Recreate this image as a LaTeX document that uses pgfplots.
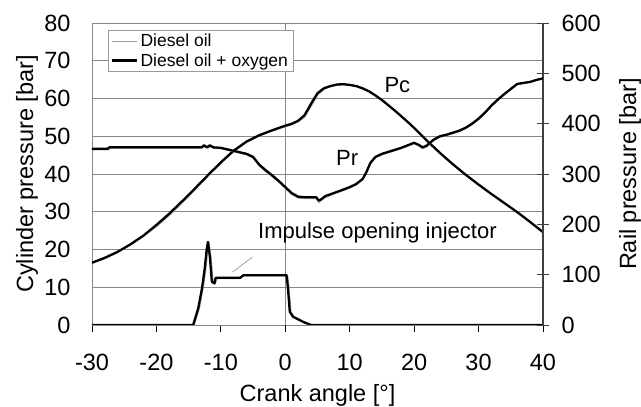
\documentclass[border=0pt]{standalone}
\usepackage{fontspec}
\setmainfont{Liberation Sans}
\usepackage{pgfplots}
\pgfplotsset{compat=1.18}

\definecolor{oilgray}{RGB}{160,160,160}
\definecolor{gridgray}{RGB}{135,135,135}

\newcommand{\bigfont}{\fontsize{23.5}{27}\selectfont}

\pgfplotsset{
  base/.style={
    at={(0,0)}, anchor=south west,
    scale only axis, width=451pt, height=302pt,
    xmin=-30, xmax=40,
    /pgf/number format/assume math mode=true,
    tick label style={font=\bigfont},
    label style={font=\bigfont},
  },
  oil/.style={oilgray, line width=0.9pt},
  oxy/.style={black, line width=2.3pt, line join=round},
}

\begin{document}
\begin{tikzpicture}
\useasboundingbox (-92pt,-82pt) rectangle (549pt,325pt);

% left axis: cylinder pressure and injector impulse
\begin{axis}[
  base,
  ymin=0, ymax=80,
  xtick={-30,-20,...,40}, ytick={0,10,...,80},
  ymajorgrids,
  major grid style={gridgray, line width=0.9pt},
  extra x ticks={0}, extra x tick labels={},
  extra x tick style={xmajorgrids=true},
  axis line style={gridgray, line width=0.9pt},
  xtick pos=bottom, ytick pos=left,
  xtick style={black, line width=0.8pt},
  ytick style={draw=none},
  tick align=outside, major tick length=7pt,
  xticklabel style={yshift=-19pt},
  yticklabel style={xshift=-11pt},
  xlabel={Crank angle [°]},
  ylabel={Cylinder pressure [bar]},
  xlabel style={at={(axis description cs:0.5,0)}, anchor=center, yshift=-70pt},
  ylabel style={at={(axis description cs:-0.144,0.5)}, anchor=center},
  legend cell align=left,
  legend style={at={(0.0355,0.977)}, anchor=north west,
    draw=gray!80, line width=0.6pt, fill=white,
    font=\fontsize{17.5}{20}\selectfont,
    inner xsep=3pt, inner ysep=2pt, row sep=1pt},
  legend image code/.code={\draw[#1] (0pt,0pt) -- (25pt,0pt);},
]
\addplot[oil] coordinates {
(-30,16.3)(-28,17.6)(-26,19.2)(-24,21.2)(-22,23.5)(-20,26.0)(-18,29.0)(-16,32.3)
(-14,35.8)(-12,39.4)(-10,42.8)(-8,45.9)(-6,48.4)(-4,50.1)(-2,51.4)(0,52.5)
(1,53.0)(2,53.8)(3,55.0)(4,57.8)(5,60.8)(6,62.4)(7,63.1)(8,63.5)(9,63.6)
(10,63.5)(11,63.2)(12,62.6)(13,61.8)(14,60.8)(15,59.6)(16,58.2)(17,56.8)
(18,55.3)(19,53.8)(20,52.2)(22,48.8)(24,45.6)(26,42.6)(28,39.8)(30,37.2)
(32,34.7)(34,32.3)(36,29.9)(38,27.3)(40,24.6)
};
\addlegendentry{Diesel oil}
\addplot[oxy] coordinates {
(-30,16.5)(-28,17.8)(-26,19.4)(-24,21.4)(-22,23.7)(-20,26.5)(-18,29.5)(-16,32.8)
(-14,36.2)(-12,39.7)(-10,43.1)(-8,46.2)(-6,48.6)(-4,50.3)(-2,51.6)(0,52.8)
(1,53.3)(2,54.1)(3,55.6)(4,58.6)(5,61.4)(6,62.7)(7,63.3)(8,63.7)(9,63.8)
(10,63.6)(11,63.3)(12,62.7)(13,61.9)(14,60.8)(15,59.6)(16,58.2)(17,56.8)
(18,55.3)(19,53.8)(20,52.2)(22,48.8)(24,45.6)(26,42.6)(28,39.8)(30,37.2)
(32,34.7)(34,32.3)(36,29.9)(38,27.3)(40,24.6)
};
\addlegendentry{Diesel oil + oxygen}

% injector opening impulse
\addplot[oil, forget plot] coordinates {
(-30,0)(-14.1,0)(-13.3,4.5)(-12.7,10)(-12.3,15)(-12.0,20)(-11.8,21.5)
(-11.5,18)(-11.2,11.5)(-10.8,11)(-10.6,12.3)(-7,12.3)(-6.5,13.0)(0.4,13.0)
(0.6,10)(0.9,3.5)(1.4,2.2)(3.0,0.8)(4.2,0)(40,0)
};
\addplot[oxy, forget plot] coordinates {
(-30,0)(-14.3,0)(-13.5,4.5)(-12.9,10)(-12.5,15)(-12.2,20)(-12.0,22)
(-11.7,18)(-11.4,11.5)(-11.0,11)(-10.8,12.5)(-7,12.5)(-6.5,13.2)(0.2,13.2)
(0.4,10)(0.7,3.5)(1.2,2.2)(2.8,0.8)(4.0,0)(40,0)
};

\draw[oilgray, line width=0.8pt] (axis cs:-8.2,14) -- (axis cs:-5.1,18);
\node[font=\fontsize{22}{25}\selectfont] at (axis cs:17.4,63.5) {Pc};
\node[font=\fontsize{22}{25}\selectfont] at (axis cs:9.6,44.2) {Pr};
\node[font=\fontsize{22}{25}\selectfont] at (axis cs:14.3,24.4) {Impulse opening injector};
\end{axis}

% right axis: rail pressure
\begin{axis}[
  base,
  ymin=0, ymax=600,
  axis x line=none,
  axis y line*=right,
  ytick={0,100,...,600},
  y axis line style={black!75, line width=1.1pt},
  ytick style={black!75, line width=0.9pt},
  tick align=center, major tick length=12pt,
  yticklabel style={xshift=9pt},
  ylabel={Rail pressure [bar]},
  ylabel style={at={(axis description cs:1.193,0.5)}, anchor=center},
]
\addplot[oil] coordinates {
(-30,348)(-27.4,348)(-27.1,351)(-13,351)(-12.4,355)(-12.0,351)(-11.5,355)
(-11.0,351)(-10,350)(-9,347)(-8,344)(-7,341)(-6,338)(-5,331)(-4.5,323)
(-4,315)(-3,304)(-2,294)(-1,283)(0,271)(1,259)(2,252)(3,251)(4,251)(4.8,251)
(5.2,243)(5.6,247)(6.2,253)(7.5,260)(9,267)(10,272)(11,278)(12,288)(12.6,301)
(13.2,319)(14,332)(15,338)(16,342)(17,346)(18,350)(19,355)(20,360)(20.7,356)
(21.3,350)(21.9,353)(23,366)(24,373)(25,376)(26,380)(27,384)(28,390)(29,398)
(30,408)(31,420)(32,434)(33,446)(34,457)(35,467)(36,477)(37,480)(38,482)
(39,486)(40,489)
};
\addplot[oxy] coordinates {
(-30,350)(-27.6,350)(-27.3,353)(-13,353)(-12.6,357)(-12.2,353)(-11.7,357)
(-11.2,353)(-10,352)(-9,349)(-8,346)(-7,343)(-6,340)(-5,334)(-4.5,326)
(-4,318)(-3,307)(-2,297)(-1,286)(0,274)(1,262)(2,255)(3,254)(4,254)(4.8,254)
(5.2,247)(5.6,250)(6.2,256)(7.5,262)(9,269)(10,274)(11,280)(12,290)(12.6,304)
(13.2,322)(14,334)(15,340)(16,344)(17,348)(18,352)(19,357)(20,362)(20.7,358)
(21.3,353)(21.9,356)(23,368)(24,375)(25,378)(26,382)(27,386)(28,392)(29,400)
(30,410)(31,422)(32,436)(33,448)(34,459)(35,469)(36,479)(37,481)(38,483)
(39,487)(40,490)
};
\end{axis}
\end{tikzpicture}
\end{document}
